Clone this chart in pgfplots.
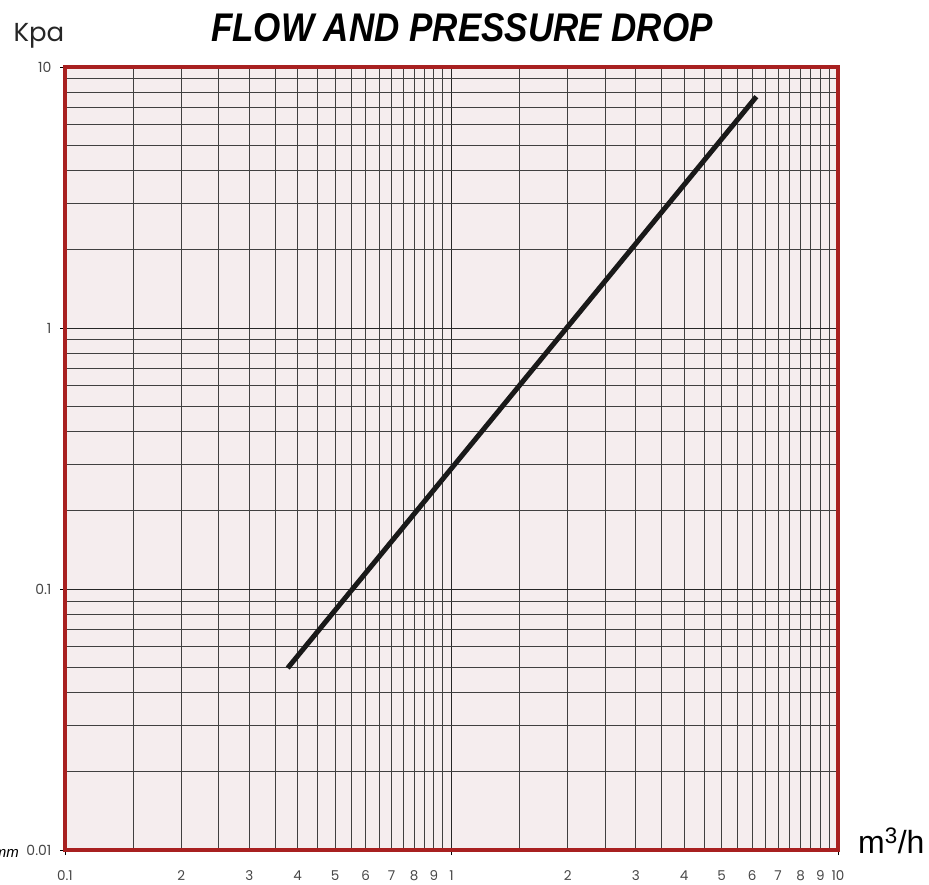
\documentclass[border=0pt]{standalone}
\usepackage{fontspec}
\setmainfont{Liberation Sans}
\newfontfamily\gothic{Poppins}
\usepackage{pgfplots}
\pgfplotsset{compat=1.18}
\definecolor{bg}{RGB}{245,237,238}
\definecolor{frame}{RGB}{168,32,32}
\definecolor{lbl}{RGB}{70,70,70}
\begin{document}
\begin{tikzpicture}
\begin{axis}[
 xmode=log, ymode=log,
 scale only axis, width=773pt, height=783pt,
 xmin=0.1, xmax=10, ymin=0.01, ymax=10,
 clip=false,
 axis background/.style={fill=bg},
 axis line style={draw=frame, line width=3.5pt},
 xtick={0.1,1,10}, xticklabels={0.1,1,10},
 ytick={0.01,0.1,1,10}, yticklabels={0.01,0.1,1,10},
 extra x ticks={0.2,0.3,0.4,0.5,0.6,0.7,0.8,0.9,2,3,4,5,6,7,8,9},
 extra x tick labels={2,3,4,5,6,7,8,9,2,3,4,5,6,7,8,9},
 extra x tick style={grid=none, major tick style={draw=none}},
 minor xtick={0.15,0.2,0.25,0.3,0.35,0.4,0.45,0.5,0.55,0.6,0.65,0.7,0.75,0.8,0.85,0.9,0.95,1.5,2,2.5,3,3.5,4,4.5,5,5.5,6,6.5,7,7.5,8,8.5,9,9.5},
 minor ytick={0.02,0.03,0.04,0.05,0.06,0.07,0.08,0.09,0.2,0.3,0.4,0.5,0.6,0.7,0.8,0.9,2,3,4,5,6,7,8,9},
 grid=both,
 major grid style={black!85, line width=0.9pt},
 minor grid style={black!75, line width=0.9pt},
 minor tick length=0pt,
 major tick length=5pt,
 tick align=outside,
 tick style={black, line width=0.6pt},
 xtick pos=lower, ytick pos=left,
 xticklabel style={font=\gothic\fontsize{13.5}{13.5}\selectfont, text=lbl, yshift=-12pt},
 yticklabel style={font=\gothic\fontsize{14}{14}\selectfont, text=lbl, xshift=-5pt},
]
\addplot[black!90, line width=5pt, line cap=butt] coordinates {(0.377,0.0498) (6.15,7.7)};
\coordinate (sw) at (rel axis cs:0,0);
\node[anchor=base west, font=\gothic\fontsize{26}{26}\selectfont, text=black!85] at ([xshift=-55pt, yshift=26pt]rel axis cs:0,1) {Kpa};
\node[anchor=base, font=\fontsize{40}{40}\selectfont\bfseries\itshape] at ([yshift=26pt]rel axis cs:0.5136,1) {\scalebox{0.875}[1]{FLOW AND PRESSURE DROP}};
\node[anchor=base west, font=\fontsize{32}{32}\selectfont, inner sep=0pt] at ([xshift=20pt, yshift=-3pt]rel axis cs:1,0) {m\textsuperscript{3}/h};
\node[anchor=base east, font=\fontsize{15}{15}\selectfont\itshape, inner sep=0pt] at ([xshift=-46pt, yshift=-7pt]rel axis cs:0,0) {mm};
\end{axis}
\pgfresetboundingbox
\path[use as bounding box] (sw) ++(-65pt,-34pt) rectangle ++(929pt,884pt);
\end{tikzpicture}
\end{document}
